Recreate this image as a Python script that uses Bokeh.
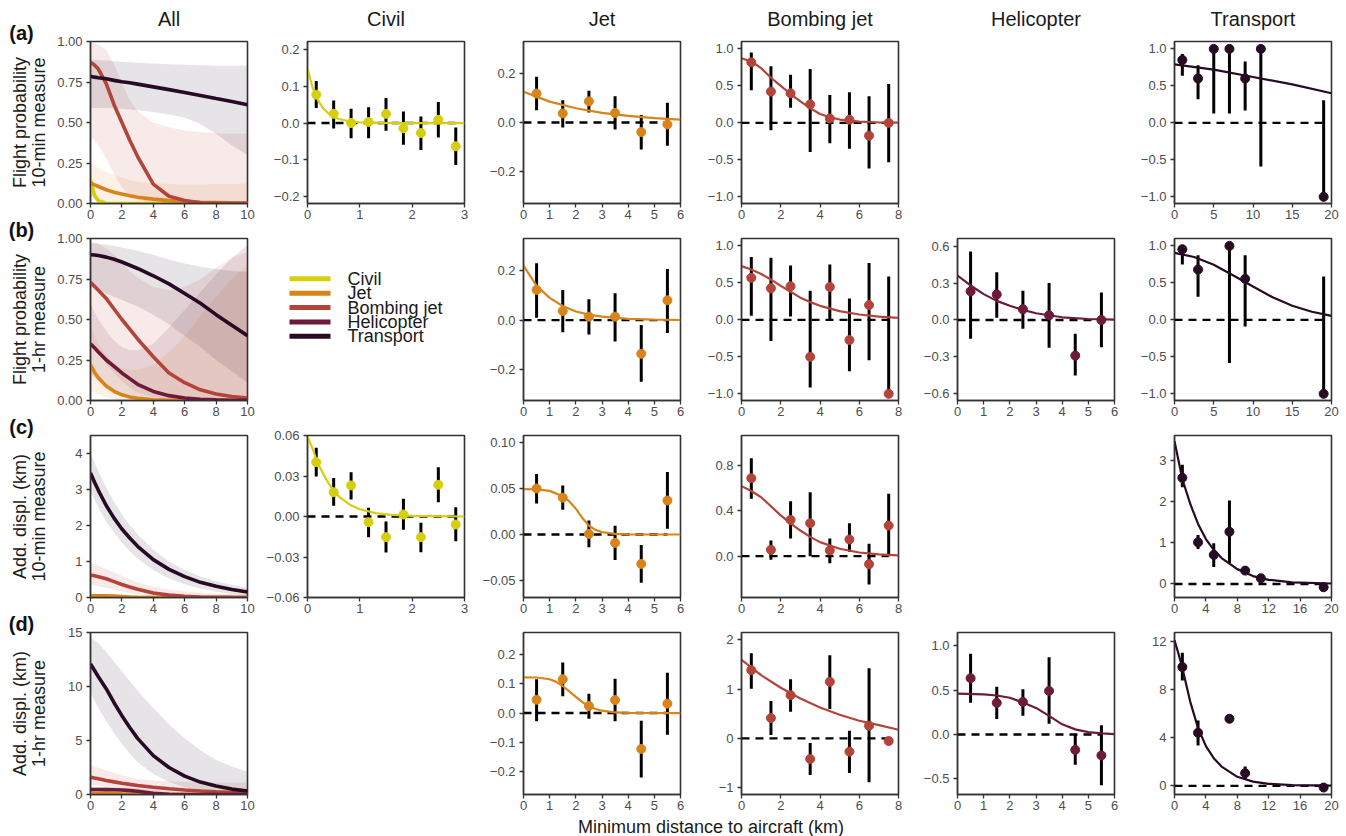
import math
from bokeh.plotting import figure
from bokeh.layouts import row, column
from bokeh.models import Range1d, FixedTicker, Spacer
from bokeh.embed import file_html
from bokeh.resources import INLINE
from bokeh.core.properties import value

FONT = "Liberation Sans"

# ---------------- labels ----------------
types = ["Civil", "Jet", "Bombing jet", "Helicopter", "Transport"]
type_colors = ["#D6CF0E", "#D9841A", "#B4443A", "#6D1A3B", "#270B25"]
col_titles = ["All", "Civil", "Jet", "Bombing jet", "Helicopter", "Transport"]
row_tags = ["(a)", "(b)", "(c)", "(d)"]
row_ylab1 = ["Flight probability", "Flight probability", "Add. displ. (km)", "Add. displ. (km)"]
row_ylab2 = ["10-min measure", "1-hr measure", "10-min measure", "1-hr measure"]
x_label = "Minimum distance to aircraft (km)"

# ---------------- "All" panels (shared distance grid) ----------------
all_x = [0, 0.25, 0.5, 1, 1.5, 2, 2.5, 3, 4, 5, 6, 7, 8, 9, 10]

a_all_civil_m = [0.148, 0.05, 0.017, 0.002, 0.0003, 0, 0, 0, 0, 0, 0, 0, 0, 0, 0]
a_all_civil_lo = [0.09, 0.025, 0.006, 0.0005, 0, 0, 0, 0, 0, 0, 0, 0, 0, 0, 0]
a_all_civil_hi = [0.2, 0.1, 0.05, 0.02, 0.012, 0.009, 0.008, 0.007, 0.006, 0.005, 0.005, 0.005, 0.005, 0.005, 0.005]
a_all_jet_m = [0.125, 0.115, 0.105, 0.085, 0.07, 0.058, 0.048, 0.039, 0.027, 0.018, 0.012, 0.008, 0.006, 0.004, 0.003]
a_all_jet_lo = [0.04, 0.035, 0.03, 0.02, 0.013, 0.008, 0.005, 0.003, 0.001, 0, 0, 0, 0, 0, 0]
a_all_jet_hi = [0.25, 0.235, 0.22, 0.195, 0.175, 0.16, 0.145, 0.135, 0.125, 0.12, 0.118, 0.118, 0.12, 0.121, 0.123]
a_all_bomb_m = [0.873, 0.855, 0.83, 0.74, 0.61, 0.50, 0.39, 0.29, 0.12, 0.045, 0.018, 0.005, 0.002, 0.001, 0.0005]
a_all_bomb_lo = [0.41, 0.39, 0.36, 0.28, 0.18, 0.10, 0.05, 0.02, 0.003, 0, 0, 0, 0, 0, 0]
a_all_bomb_hi = [0.99, 0.985, 0.98, 0.95, 0.86, 0.74, 0.64, 0.57, 0.5, 0.47, 0.45, 0.44, 0.435, 0.43, 0.43]
a_all_trans_m = [0.785, 0.78, 0.776, 0.77, 0.76, 0.752, 0.745, 0.737, 0.72, 0.703, 0.685, 0.667, 0.648, 0.63, 0.61]
a_all_trans_lo = [0.59, 0.59, 0.59, 0.59, 0.588, 0.585, 0.58, 0.575, 0.565, 0.55, 0.53, 0.49, 0.43, 0.36, 0.30]
a_all_trans_hi = [0.89, 0.888, 0.886, 0.882, 0.878, 0.875, 0.872, 0.869, 0.864, 0.86, 0.856, 0.853, 0.851, 0.85, 0.85]

b_all_jet_m = [0.22, 0.175, 0.14, 0.09, 0.057, 0.035, 0.022, 0.014, 0.005, 0.002, 0.001, 0.0005, 0, 0, 0]
b_all_jet_lo = [0.06, 0.05, 0.04, 0.02, 0.01, 0.005, 0.002, 0.001, 0, 0, 0, 0, 0, 0, 0]
b_all_jet_hi = [0.45, 0.4, 0.35, 0.28, 0.23, 0.2, 0.19, 0.19, 0.22, 0.3, 0.4, 0.52, 0.64, 0.75, 0.84]
b_all_bomb_m = [0.73, 0.705, 0.68, 0.63, 0.565, 0.50, 0.44, 0.38, 0.27, 0.17, 0.11, 0.066, 0.04, 0.025, 0.015]
b_all_bomb_lo = [0.38, 0.34, 0.30, 0.23, 0.17, 0.12, 0.08, 0.05, 0.02, 0.008, 0.003, 0.001, 0, 0, 0]
b_all_bomb_hi = [0.98, 0.975, 0.965, 0.94, 0.9, 0.85, 0.8, 0.76, 0.7, 0.68, 0.7, 0.75, 0.82, 0.88, 0.92]
b_all_heli_m = [0.35, 0.325, 0.30, 0.25, 0.21, 0.17, 0.135, 0.10, 0.056, 0.03, 0.015, 0.008, 0.004, 0.002, 0.001]
b_all_heli_lo = [0.16, 0.14, 0.12, 0.09, 0.06, 0.04, 0.025, 0.015, 0.005, 0.001, 0, 0, 0, 0, 0]
b_all_heli_hi = [0.6, 0.55, 0.5, 0.43, 0.37, 0.33, 0.31, 0.31, 0.35, 0.45, 0.56, 0.67, 0.78, 0.88, 0.96]
b_all_trans_m = [0.90, 0.898, 0.895, 0.885, 0.872, 0.855, 0.835, 0.815, 0.77, 0.72, 0.66, 0.60, 0.53, 0.465, 0.40]
b_all_trans_lo = [0.70, 0.69, 0.68, 0.66, 0.64, 0.62, 0.60, 0.58, 0.53, 0.47, 0.40, 0.33, 0.25, 0.18, 0.11]
b_all_trans_hi = [0.97, 0.97, 0.967, 0.962, 0.955, 0.945, 0.935, 0.925, 0.9, 0.87, 0.845, 0.825, 0.81, 0.8, 0.795]

c_all_civil_m = [0.059, 0.032, 0.017, 0.005, 0.0015, 0.0005, 0, 0, 0, 0, 0, 0, 0, 0, 0]
c_all_civil_lo = [0.045, 0.02, 0.01, 0.002, 0, 0, 0, 0, 0, 0, 0, 0, 0, 0, 0]
c_all_civil_hi = [0.075, 0.045, 0.028, 0.01, 0.005, 0.003, 0.002, 0.002, 0.002, 0.002, 0.002, 0.002, 0.002, 0.002, 0.002]
c_all_jet_m = [0.049, 0.049, 0.049, 0.047, 0.042, 0.028, 0.0095, 0.0026, 0.0002, 0, 0, 0, 0, 0, 0]
c_all_jet_lo = [0.034, 0.034, 0.034, 0.032, 0.027, 0.015, 0.003, 0.001, 0, 0, 0, 0, 0, 0, 0]
c_all_jet_hi = [0.066, 0.066, 0.066, 0.064, 0.058, 0.045, 0.025, 0.015, 0.01, 0.01, 0.01, 0.01, 0.01, 0.01, 0.01]
c_all_bomb_m = [0.62, 0.60, 0.575, 0.52, 0.44, 0.36, 0.29, 0.226, 0.124, 0.065, 0.032, 0.015, 0.006, 0.003, 0.001]
c_all_bomb_lo = [0.35, 0.33, 0.31, 0.27, 0.22, 0.17, 0.12, 0.08, 0.04, 0.015, 0.005, 0.001, 0, 0, 0]
c_all_bomb_hi = [0.95, 0.92, 0.88, 0.8, 0.7, 0.6, 0.5, 0.42, 0.3, 0.22, 0.17, 0.13, 0.11, 0.1, 0.1]
c_all_trans_m = [3.45, 3.2, 2.97, 2.55, 2.2, 1.9, 1.65, 1.42, 1.05, 0.78, 0.58, 0.42, 0.31, 0.22, 0.15]
c_all_trans_lo = [2.95, 2.72, 2.5, 2.1, 1.8, 1.52, 1.28, 1.08, 0.76, 0.53, 0.37, 0.25, 0.16, 0.1, 0.06]
c_all_trans_hi = [4.0, 3.75, 3.5, 3.05, 2.65, 2.3, 2.0, 1.75, 1.32, 1.0, 0.76, 0.58, 0.45, 0.35, 0.27]

d_all_jet_m = [0.12, 0.12, 0.12, 0.115, 0.092, 0.055, 0.023, 0.008, 0.0005, 0, 0, 0, 0, 0, 0]
d_all_jet_lo = [0.05, 0.05, 0.05, 0.045, 0.035, 0.02, 0.008, 0.002, 0, 0, 0, 0, 0, 0, 0]
d_all_jet_hi = [0.2, 0.2, 0.2, 0.19, 0.17, 0.13, 0.09, 0.06, 0.04, 0.03, 0.03, 0.03, 0.03, 0.03, 0.03]
d_all_bomb_m = [1.6, 1.52, 1.45, 1.3, 1.17, 1.05, 0.94, 0.84, 0.67, 0.53, 0.42, 0.33, 0.26, 0.21, 0.17]
d_all_bomb_lo = [0.9, 0.85, 0.8, 0.7, 0.6, 0.5, 0.43, 0.36, 0.25, 0.17, 0.11, 0.07, 0.04, 0.03, 0.02]
d_all_bomb_hi = [2.7, 2.6, 2.48, 2.22, 1.98, 1.78, 1.6, 1.46, 1.3, 1.2, 1.15, 1.12, 1.1, 1.1, 1.1]
d_all_heli_m = [0.46, 0.46, 0.457, 0.453, 0.44, 0.415, 0.36, 0.30, 0.115, 0.027, 0.005, 0.001, 0, 0, 0]
d_all_heli_lo = [0.25, 0.25, 0.25, 0.24, 0.23, 0.2, 0.16, 0.12, 0.03, 0.005, 0, 0, 0, 0, 0]
d_all_heli_hi = [0.7, 0.7, 0.7, 0.69, 0.68, 0.66, 0.62, 0.58, 0.45, 0.3, 0.2, 0.15, 0.12, 0.1, 0.1]
d_all_trans_m = [12.1, 11.5, 10.9, 9.8, 8.5, 7.3, 6.2, 5.2, 3.6, 2.5, 1.7, 1.15, 0.78, 0.5, 0.32]
d_all_trans_lo = [9.4, 8.7, 8.0, 6.8, 5.7, 4.7, 3.8, 3.0, 1.9, 1.15, 0.7, 0.42, 0.26, 0.16, 0.1]
d_all_trans_hi = [14.6, 14.3, 14.0, 13.2, 12.3, 11.4, 10.5, 9.6, 8.0, 6.5, 5.2, 4.1, 3.2, 2.6, 2.1]

# ---------------- per-type panels: binned points, error bars, fitted curve ----------------
civil_bins = [0.167, 0.5, 0.833, 1.167, 1.5, 1.833, 2.167, 2.5, 2.833]
km_bins = [0.5, 1.5, 2.5, 3.5, 4.5, 5.5]
bomb_bins = [0.5, 1.5, 2.5, 3.5, 4.5, 5.5, 6.5, 7.5]

# (a) flight probability, 10-min
a_civil_y = [0.077, 0.025, 0.0, 0.003, 0.025, -0.014, -0.027, 0.009, -0.063]
a_civil_lo = [0.041, -0.015, -0.041, -0.041, -0.021, -0.059, -0.073, -0.039, -0.114]
a_civil_hi = [0.114, 0.061, 0.039, 0.043, 0.068, 0.031, 0.018, 0.057, -0.012]
a_civil_cx = [0, 0.1, 0.2, 0.3, 0.4, 0.5, 0.6, 0.8, 1.0, 1.5, 2.0, 3.0]
a_civil_cy = [0.148, 0.095, 0.062, 0.040, 0.026, 0.017, 0.011, 0.005, 0.002, 0.0003, 0.0, 0.0]
a_jet_y = [0.118, 0.037, 0.086, 0.039, -0.039, -0.008]
a_jet_lo = [0.050, -0.020, 0.041, -0.029, -0.110, -0.095]
a_jet_hi = [0.186, 0.091, 0.129, 0.107, 0.031, 0.080]
a_jet_cx = [0, 1, 2, 3, 4, 5, 6]
a_jet_cy = [0.125, 0.085, 0.058, 0.039, 0.027, 0.018, 0.012]
a_bomb_y = [0.818, 0.423, 0.40, 0.25, 0.059, 0.041, -0.173, 0.0]
a_bomb_lo = [0.44, -0.10, 0.205, -0.395, -0.277, -0.35, -0.618, -0.532]
a_bomb_hi = [0.95, 0.764, 0.65, 0.727, 0.377, 0.414, 0.359, 0.527]
a_bomb_cx = [0, 0.5, 1, 1.5, 2, 2.5, 3, 3.5, 4, 4.5, 5, 6, 7, 8]
a_bomb_cy = [0.873, 0.83, 0.74, 0.61, 0.50, 0.39, 0.29, 0.20, 0.12, 0.077, 0.045, 0.018, 0.005, 0.002]
a_trans_x = [1, 3, 5, 7, 9, 11, 19]
a_trans_y = [0.85, 0.60, 1.0, 1.0, 0.60, 1.0, -1.0]
a_trans_lo = [0.636, 0.318, 0.127, 0.127, 0.168, -0.59, -1.0]
a_trans_hi = [0.93, 0.78, 1.0, 1.0, 0.83, 1.0, 0.305]
a_trans_cx = [0, 5, 10, 15, 20]
a_trans_cy = [0.79, 0.72, 0.62, 0.52, 0.40]

# (b) flight probability, 1-hr
b_jet_y = [0.122, 0.037, 0.014, 0.014, -0.136, 0.080]
b_jet_lo = [0.01, -0.049, -0.058, -0.086, -0.249, -0.052]
b_jet_hi = [0.23, 0.122, 0.084, 0.109, -0.020, 0.207]
b_jet_cx = [0, 0.5, 1, 1.5, 2, 2.5, 3, 4, 5, 6]
b_jet_cy = [0.22, 0.139, 0.09, 0.057, 0.035, 0.022, 0.014, 0.005, 0.002, 0.0005]
b_bomb_y = [0.568, 0.427, 0.455, -0.5, 0.445, -0.273, 0.20, -1.0]
b_bomb_lo = [0.055, -0.286, 0.045, -0.914, 0.0, -0.695, -0.545, -1.0]
b_bomb_hi = [0.85, 0.84, 0.736, 0.395, 0.75, 0.29, 0.768, 0.586]
b_bomb_cx = [0, 0.5, 1, 1.5, 2, 2.5, 3, 3.5, 4, 5, 6, 7, 8]
b_bomb_cy = [0.727, 0.68, 0.62, 0.545, 0.46, 0.38, 0.30, 0.24, 0.19, 0.118, 0.073, 0.045, 0.027]
b_heli_y = [0.232, 0.207, 0.087, 0.038, -0.289, 0.0]
b_heli_lo = [-0.153, 0.019, -0.071, -0.226, -0.45, -0.221]
b_heli_hi = [0.556, 0.387, 0.237, 0.30, -0.112, 0.224]
b_heli_cx = [0, 0.5, 1, 1.5, 2, 2.5, 3, 4, 5, 6]
b_heli_cy = [0.36, 0.28, 0.21, 0.155, 0.115, 0.082, 0.055, 0.022, 0.008, 0.003]
b_trans_x = [1, 3, 7, 9, 19]
b_trans_y = [0.955, 0.68, 1.0, 0.555, -1.0]
b_trans_lo = [0.75, 0.314, -0.582, -0.091, -1.0]
b_trans_hi = [0.96, 0.873, 1.0, 0.873, 0.586]
b_trans_cx = [0, 2.5, 5, 7.5, 10, 12.5, 15, 17.5, 20]
b_trans_cy = [0.905, 0.85, 0.745, 0.60, 0.45, 0.305, 0.19, 0.11, 0.055]

# (c) additional displacement, 10-min
c_civil_y = [0.0402, 0.018, 0.023, -0.0042, -0.0153, 0.0015, -0.0153, 0.0235, -0.0059]
c_civil_lo = [0.0296, 0.0079, 0.0126, -0.0153, -0.0267, -0.0099, -0.0264, 0.0106, -0.0183]
c_civil_hi = [0.0509, 0.0286, 0.0328, 0.0064, -0.0037, 0.0131, -0.0047, 0.0365, 0.0069]
c_civil_cx = [0, 0.1, 0.2, 0.3, 0.4, 0.5, 0.6, 0.8, 1.0, 1.3, 1.6, 2.0, 3.0]
c_civil_cy = [0.0593, 0.050, 0.039, 0.0316, 0.0247, 0.0193, 0.0148, 0.0089, 0.0054, 0.0025, 0.0012, 0.0005, 0.0]
c_jet_y = [0.050, 0.040, 0.0007, -0.0091, -0.032, 0.0369]
c_jet_lo = [0.0336, 0.027, -0.0139, -0.0277, -0.0526, 0.0062]
c_jet_hi = [0.0657, 0.0533, 0.0153, 0.0095, -0.0113, 0.0679]
c_jet_cx = [0, 0.5, 1, 1.5, 1.75, 2, 2.25, 2.5, 2.75, 3, 3.5, 4, 5, 6]
c_jet_cy = [0.0493, 0.049, 0.0474, 0.0416, 0.036, 0.028, 0.018, 0.0095, 0.005, 0.0026, 0.0007, 0.0002, 0, 0]
c_bomb_y = [0.688, 0.056, 0.32, 0.291, 0.05, 0.147, -0.071, 0.27]
c_bomb_lo = [0.506, -0.032, 0.156, 0.0, -0.062, 0.038, -0.25, 0.0]
c_bomb_hi = [0.865, 0.138, 0.485, 0.565, 0.156, 0.291, 0.109, 0.55]
c_bomb_cx = [0, 0.5, 1, 1.5, 2, 2.5, 3, 3.5, 4, 5, 6, 7, 8]
c_bomb_cy = [0.618, 0.575, 0.52, 0.44, 0.36, 0.29, 0.226, 0.17, 0.124, 0.065, 0.032, 0.015, 0.006]
c_trans_x = [1, 3, 5, 7, 9, 11, 19]
c_trans_y = [2.58, 1.01, 0.706, 1.27, 0.324, 0.138, -0.081]
c_trans_lo = [2.35, 0.85, 0.41, 0.50, 0.26, 0.10, -0.10]
c_trans_hi = [2.90, 1.19, 0.99, 2.03, 0.39, 0.18, -0.06]
c_trans_cx = [0, 1, 2, 3, 4, 5, 6, 8, 10, 12, 15, 20]
c_trans_cy = [3.47, 2.55, 1.95, 1.46, 1.09, 0.83, 0.63, 0.36, 0.19, 0.10, 0.04, 0.01]

# (d) additional displacement, 1-hr
d_jet_y = [0.045, 0.115, 0.024, 0.044, -0.122, 0.032]
d_jet_lo = [-0.028, 0.057, -0.019, -0.028, -0.219, -0.074]
d_jet_hi = [0.115, 0.172, 0.066, 0.117, -0.026, 0.1375]
d_jet_cx = [0, 0.5, 1, 1.25, 1.5, 1.75, 2, 2.25, 2.5, 2.75, 3, 3.5, 4, 6]
d_jet_cy = [0.1216, 0.121, 0.115, 0.106, 0.092, 0.074, 0.055, 0.037, 0.023, 0.014, 0.008, 0.002, 0.0005, 0]
d_bomb_y = [1.385, 0.412, 0.878, -0.419, 1.149, -0.27, 0.257, -0.054]
d_bomb_lo = [1.01, 0.068, 0.54, -0.743, 0.595, -0.703, -0.892, -0.08]
d_bomb_hi = [1.73, 0.757, 1.20, -0.095, 1.69, 0.155, 1.426, -0.03]
d_bomb_cx = [0, 1, 2, 3, 4, 5, 6, 7, 8]
d_bomb_cy = [1.595, 1.284, 1.027, 0.81, 0.628, 0.48, 0.358, 0.27, 0.176]
d_heli_y = [0.636, 0.357, 0.368, 0.492, -0.174, -0.236]
d_heli_lo = [0.357, 0.174, 0.213, 0.12, -0.341, -0.574]
d_heli_hi = [0.91, 0.539, 0.512, 0.872, 0.0, 0.105]
d_heli_cx = [0, 1, 1.5, 2, 2.5, 3, 3.5, 4, 4.5, 5, 5.5, 6]
d_heli_cy = [0.461, 0.453, 0.44, 0.415, 0.36, 0.30, 0.21, 0.115, 0.058, 0.027, 0.012, 0.005]
d_trans_x = [1, 3, 7, 9, 19]
d_trans_y = [9.87, 4.41, 5.57, 1.05, -0.14]
d_trans_lo = [8.76, 3.35, 5.4, 0.53, -0.2]
d_trans_hi = [11.06, 5.43, 5.75, 1.6, -0.08]
d_trans_cx = [0, 0.5, 1, 2, 3, 4, 5, 6, 8, 10, 12, 15, 20]
d_trans_cy = [12.1, 11.0, 9.8, 7.0, 4.8, 3.3, 2.3, 1.6, 0.75, 0.35, 0.17, 0.06, 0.01]

# ---------------- axis ticks / labels ----------------
xt_all = [0, 2, 4, 6, 8, 10]
xt_civil = [0, 1, 2, 3]
xt_km6 = [0, 1, 2, 3, 4, 5, 6]
xt_bomb = [0, 2, 4, 6, 8]
xt_trans_ab = [0, 5, 10, 15, 20]
xt_trans_cd = [0, 4, 8, 12, 16, 20]

yt_prob = [0, 0.25, 0.5, 0.75, 1.0]
yl_prob = ["0.00", "0.25", "0.50", "0.75", "1.00"]
yt_pm02 = [-0.2, -0.1, 0.0, 0.1, 0.2]
yl_pm02 = ["\u22120.2", "\u22120.1", "0.0", "0.1", "0.2"]
yt_pm02b = [-0.2, 0.0, 0.2]
yl_pm02b = ["\u22120.2", "0.0", "0.2"]
yt_pm1 = [-1.0, -0.5, 0.0, 0.5, 1.0]
yl_pm1 = ["\u22121.0", "\u22120.5", "0.0", "0.5", "1.0"]
yt_pm06 = [-0.6, -0.3, 0.0, 0.3, 0.6]
yl_pm06 = ["\u22120.6", "\u22120.3", "0.0", "0.3", "0.6"]
yt_c_all = [0, 1, 2, 3, 4]
yl_c_all = ["0", "1", "2", "3", "4"]
yt_c_civil = [-0.06, -0.03, 0.0, 0.03, 0.06]
yl_c_civil = ["\u22120.06", "\u22120.03", "0.00", "0.03", "0.06"]
yt_c_jet = [-0.05, 0.0, 0.05, 0.10]
yl_c_jet = ["\u22120.05", "0.00", "0.05", "0.10"]
yt_c_bomb = [0.0, 0.4, 0.8]
yl_c_bomb = ["0.0", "0.4", "0.8"]
yt_c_trans = [0, 1, 2, 3]
yl_c_trans = ["0", "1", "2", "3"]
yt_d_all = [0, 5, 10, 15]
yl_d_all = ["0", "5", "10", "15"]
yt_d_bomb = [-1, 0, 1, 2]
yl_d_bomb = ["\u22121", "0", "1", "2"]
yt_d_heli = [-0.5, 0.0, 0.5, 1.0]
yl_d_heli = ["\u22120.5", "0.0", "0.5", "1.0"]
yt_d_trans = [0, 4, 8, 12]
yl_d_trans = ["0", "4", "8", "12"]

# ---------------- layout constants ----------------
FW, FH = 157, 162
COL_LEFT = [40, 50, 54, 56, 54, 55]
COL_RIGHT = [10, 5, 5, 5, 5, 10]
ROW_TOP = [9, 10, 10, 10]
ROW_BOTTOM = [25, 25, 25, 22]
GUTTER_W = 50
HEADER_H = 32
FOOTER_H = 20
col_w = [COL_LEFT[i] + FW + COL_RIGHT[i] for i in range(6)]
row_h = [ROW_TOP[i] + FH + ROW_BOTTOM[i] for i in range(4)]
col_x0 = [GUTTER_W + sum(col_w[:i]) for i in range(6)]
row_y0 = [HEADER_H + sum(row_h[:i]) for i in range(4)]
frame_cx = [col_x0[i] + COL_LEFT[i] + FW / 2 for i in range(6)]
frame_cy = [row_y0[i] + ROW_TOP[i] + FH / 2 for i in range(4)]
frame_top = [row_y0[i] + ROW_TOP[i] for i in range(4)]
GRID_H = sum(row_h)
TOTAL_W = GUTTER_W + sum(col_w)

AX = "#333333"
TICKC = "#4D4D4D"


def strip(w, h, x0, y0):
    p = figure(width=int(w), height=int(h), x_range=Range1d(x0, x0 + w), y_range=Range1d(y0 + h, y0),
               x_axis_location=None, y_axis_location=None, min_border=0,
               toolbar_location=None, tools="", output_backend="svg")
    p.xgrid.visible = False
    p.ygrid.visible = False
    p.outline_line_color = None
    p.background_fill_color = "white"
    p.border_fill_color = "white"
    return p


def panel(ci, ri, x_end, xticks, y0, y1, yticks, ylabels):
    p = figure(frame_width=FW, frame_height=FH,
               min_border_left=COL_LEFT[ci], min_border_right=COL_RIGHT[ci],
               min_border_top=ROW_TOP[ri], min_border_bottom=ROW_BOTTOM[ri],
               x_range=Range1d(0, x_end), y_range=Range1d(y0, y1),
               toolbar_location=None, tools="", output_backend="svg")
    p.xaxis.ticker = FixedTicker(ticks=xticks)
    p.yaxis.ticker = FixedTicker(ticks=yticks)
    p.yaxis.major_label_overrides = {t: l for t, l in zip(yticks, ylabels)}
    for ax in (p.xaxis[0], p.yaxis[0]):
        ax.major_label_text_font = FONT
        ax.major_label_text_font_size = "13px"
        ax.major_label_text_color = TICKC
        ax.axis_line_color = AX
        ax.axis_line_width = 1.3
        ax.major_tick_line_color = AX
        ax.major_tick_line_width = 1.3
        ax.major_tick_in = 0
        ax.major_tick_out = 4
        ax.minor_tick_line_color = None
    p.xaxis.major_label_standoff = 2
    p.yaxis.major_label_standoff = 4
    p.xgrid.visible = False
    p.ygrid.visible = False
    p.outline_line_color = AX
    p.outline_line_width = 1.6
    p.outline_line_alpha = 1.0
    p.background_fill_color = "white"
    p.border_fill_color = "white"
    return p


def draw_detail(p, color, px, py, plo, phi, cx, cy):
    p.segment(x0=0, y0=0, x1=max(px), y1=0, line_color="black", line_width=2.4, line_dash="8 6")
    p.segment(x0=px, y0=plo, x1=px, y1=phi, line_color="black", line_width=3)
    p.line(cx, cy, line_color=color, line_width=2.2)
    p.scatter(px, py, size=9, fill_color=color, line_color=color)


def draw_all(p, series):
    for color, m, lo, hi in series:
        p.varea(x=all_x, y1=lo, y2=hi, fill_color=color, fill_alpha=0.11)
    for color, m, lo, hi in series:
        p.line(all_x, m, line_color=color, line_width=3.6)


CIV, JET, BOMB, HELI, TRANS = type_colors

# ----- row (a)
pa0 = panel(0, 0, 10, xt_all, 0, 1.0, yt_prob, yl_prob)
draw_all(pa0, [(CIV, a_all_civil_m, a_all_civil_lo, a_all_civil_hi),
               (JET, a_all_jet_m, a_all_jet_lo, a_all_jet_hi),
               (BOMB, a_all_bomb_m, a_all_bomb_lo, a_all_bomb_hi),
               (TRANS, a_all_trans_m, a_all_trans_lo, a_all_trans_hi)])
pa1 = panel(1, 0, 3, xt_civil, -0.218, 0.221, yt_pm02, yl_pm02)
draw_detail(pa1, CIV, civil_bins, a_civil_y, a_civil_lo, a_civil_hi, a_civil_cx, a_civil_cy)
pa2 = panel(2, 0, 6, xt_km6, -0.33, 0.33, yt_pm02b, yl_pm02b)
draw_detail(pa2, JET, km_bins, a_jet_y, a_jet_lo, a_jet_hi, a_jet_cx, a_jet_cy)
pa3 = panel(3, 0, 8, xt_bomb, -1.09, 1.10, yt_pm1, yl_pm1)
draw_detail(pa3, BOMB, bomb_bins, a_bomb_y, a_bomb_lo, a_bomb_hi, a_bomb_cx, a_bomb_cy)
pa4 = Spacer(width=col_w[4], height=row_h[0])
pa5 = panel(5, 0, 20, xt_trans_ab, -1.09, 1.10, yt_pm1, yl_pm1)
draw_detail(pa5, TRANS, a_trans_x, a_trans_y, a_trans_lo, a_trans_hi, a_trans_cx, a_trans_cy)

# ----- row (b)
pb0 = panel(0, 1, 10, xt_all, 0, 1.0, yt_prob, yl_prob)
draw_all(pb0, [(JET, b_all_jet_m, b_all_jet_lo, b_all_jet_hi),
               (BOMB, b_all_bomb_m, b_all_bomb_lo, b_all_bomb_hi),
               (HELI, b_all_heli_m, b_all_heli_lo, b_all_heli_hi),
               (TRANS, b_all_trans_m, b_all_trans_lo, b_all_trans_hi)])
# legend in the empty Civil slot
pb1 = strip(col_w[1], row_h[1], col_x0[1], row_y0[1])
leg_x0 = col_x0[1] + 32
leg_x1 = col_x0[1] + 73
leg_tx = col_x0[1] + 90
leg_y = [frame_top[1] + 39 + 17.5 * i for i in range(5)]
pb1.segment(x0=leg_x0, y0=leg_y, x1=leg_x1, y1=leg_y, line_color=type_colors, line_width=5)
pb1.text(x=leg_tx, y=leg_y, text=types, text_font=value(FONT), text_font_size=value("18px"),
         text_color="#1A1A1A", text_baseline="middle", text_align="left")
pb2 = panel(2, 1, 6, xt_km6, -0.325, 0.33, yt_pm02b, yl_pm02b)
draw_detail(pb2, JET, km_bins, b_jet_y, b_jet_lo, b_jet_hi, b_jet_cx, b_jet_cy)
pb3 = panel(3, 1, 8, xt_bomb, -1.09, 1.10, yt_pm1, yl_pm1)
draw_detail(pb3, BOMB, bomb_bins, b_bomb_y, b_bomb_lo, b_bomb_hi, b_bomb_cx, b_bomb_cy)
pb4 = panel(4, 1, 6, xt_km6, -0.653, 0.661, yt_pm06, yl_pm06)
draw_detail(pb4, HELI, km_bins, b_heli_y, b_heli_lo, b_heli_hi, b_heli_cx, b_heli_cy)
pb5 = panel(5, 1, 20, xt_trans_ab, -1.09, 1.10, yt_pm1, yl_pm1)
draw_detail(pb5, TRANS, b_trans_x, b_trans_y, b_trans_lo, b_trans_hi, b_trans_cx, b_trans_cy)

# ----- row (c)
pc0 = panel(0, 2, 10, xt_all, 0, 4.49, yt_c_all, yl_c_all)
draw_all(pc0, [(CIV, c_all_civil_m, c_all_civil_lo, c_all_civil_hi),
               (JET, c_all_jet_m, c_all_jet_lo, c_all_jet_hi),
               (BOMB, c_all_bomb_m, c_all_bomb_lo, c_all_bomb_hi),
               (TRANS, c_all_trans_m, c_all_trans_lo, c_all_trans_hi)])
pc1 = panel(1, 2, 3, xt_civil, -0.06, 0.06, yt_c_civil, yl_c_civil)
draw_detail(pc1, CIV, civil_bins, c_civil_y, c_civil_lo, c_civil_hi, c_civil_cx, c_civil_cy)
pc2 = panel(2, 2, 6, xt_km6, -0.0685, 0.1076, yt_c_jet, yl_c_jet)
draw_detail(pc2, JET, km_bins, c_jet_y, c_jet_lo, c_jet_hi, c_jet_cx, c_jet_cy)
pc3 = panel(3, 2, 8, xt_bomb, -0.365, 1.065, yt_c_bomb, yl_c_bomb)
draw_detail(pc3, BOMB, bomb_bins, c_bomb_y, c_bomb_lo, c_bomb_hi, c_bomb_cx, c_bomb_cy)
pc4 = Spacer(width=col_w[4], height=row_h[2])
pc5 = panel(5, 2, 20, xt_trans_cd, -0.33, 3.61, yt_c_trans, yl_c_trans)
draw_detail(pc5, TRANS, c_trans_x, c_trans_y, c_trans_lo, c_trans_hi, c_trans_cx, c_trans_cy)

# ----- row (d)
pd0 = panel(0, 3, 10, xt_all, 0, 15, yt_d_all, yl_d_all)
draw_all(pd0, [(JET, d_all_jet_m, d_all_jet_lo, d_all_jet_hi),
               (BOMB, d_all_bomb_m, d_all_bomb_lo, d_all_bomb_hi),
               (HELI, d_all_heli_m, d_all_heli_lo, d_all_heli_hi),
               (TRANS, d_all_trans_m, d_all_trans_lo, d_all_trans_hi)])
pd1 = Spacer(width=col_w[1], height=row_h[3])
pd2 = panel(2, 3, 6, xt_km6, -0.277, 0.274, yt_pm02, yl_pm02)
draw_detail(pd2, JET, km_bins, d_jet_y, d_jet_lo, d_jet_hi, d_jet_cx, d_jet_cy)
pd3 = panel(3, 3, 8, xt_bomb, -1.14, 2.15, yt_d_bomb, yl_d_bomb)
draw_detail(pd3, BOMB, bomb_bins, d_bomb_y, d_bomb_lo, d_bomb_hi, d_bomb_cx, d_bomb_cy)
pd4 = panel(4, 3, 6, xt_km6, -0.677, 1.151, yt_d_heli, yl_d_heli)
draw_detail(pd4, HELI, km_bins, d_heli_y, d_heli_lo, d_heli_hi, d_heli_cx, d_heli_cy)
pd5 = panel(5, 3, 20, xt_trans_cd, -0.72, 12.74, yt_d_trans, yl_d_trans)
draw_detail(pd5, TRANS, d_trans_x, d_trans_y, d_trans_lo, d_trans_hi, d_trans_cx, d_trans_cy)

# ----- header with column titles
header = strip(sum(col_w), HEADER_H, GUTTER_W, 0)
header.text(x=frame_cx, y=[18] * 6, text=col_titles, text_font=value(FONT), text_font_size=value("20px"),
            text_color="#1A1A1A", text_align="center", text_baseline="middle")

# ----- left gutter with row tags and y-axis titles
gutter = strip(GUTTER_W, HEADER_H + GRID_H, 0, 0)
gutter.text(x=[21] * 4, y=[ft - 9 for ft in frame_top], text=row_tags, text_font=value(FONT),
            text_font_size=value("20px"), text_font_style="bold", text_color="#111111",
            text_align="center", text_baseline="middle")
gutter.text(x=[19] * 4, y=frame_cy, text=row_ylab1, angle=math.pi / 2, text_font=value(FONT),
            text_font_size=value("18px"), text_color="#1A1A1A", text_align="center", text_baseline="middle")
gutter.text(x=[38] * 4, y=frame_cy, text=row_ylab2, angle=math.pi / 2, text_font=value(FONT),
            text_font_size=value("18px"), text_color="#1A1A1A", text_align="center", text_baseline="middle")

# ----- footer with shared x-axis title
footer = strip(TOTAL_W, FOOTER_H, 0, HEADER_H + GRID_H)
footer.text(x=[(col_x0[2] + COL_LEFT[2] + col_x0[3] + COL_LEFT[3] + FW) / 2], y=[HEADER_H + GRID_H + 10],
            text=[x_label], text_font=value(FONT), text_font_size=value("18px"), text_color="#1A1A1A",
            text_align="center", text_baseline="middle")

grid = column(header,
              row(pa0, pa1, pa2, pa3, pa4, pa5),
              row(pb0, pb1, pb2, pb3, pb4, pb5),
              row(pc0, pc1, pc2, pc3, pc4, pc5),
              row(pd0, pd1, pd2, pd3, pd4, pd5))
layout = column(row(gutter, grid), footer)

open("out.html", "w").write(file_html(layout, INLINE))
